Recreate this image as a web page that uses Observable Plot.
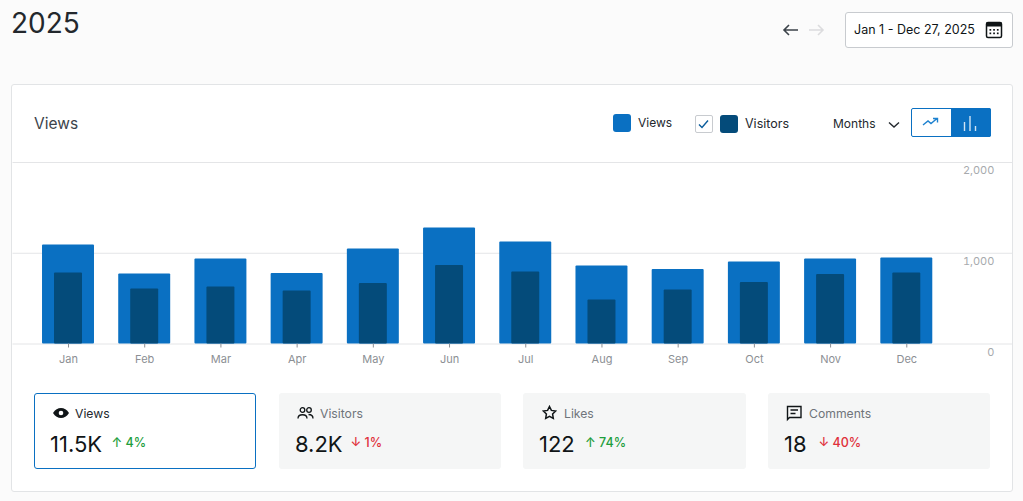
<!DOCTYPE html>
<html><head><meta charset="utf-8">
<script src="https://cdn.jsdelivr.net/npm/d3@7"></script>
<script src="https://cdn.jsdelivr.net/npm/@observablehq/plot@0.6"></script>
<style>
html,body{margin:0;padding:0;width:1023px;height:501px;overflow:hidden;background:#fbfbfb;font-family:Inter,"Noto Sans",sans-serif;color:#101517}
.a{position:absolute;white-space:nowrap;line-height:1}
#card{position:absolute;left:11px;top:84px;width:1000px;height:406px;background:#fff;border:1px solid #e2e4e6;border-radius:3px;box-sizing:content-box}
#plot{position:absolute;left:12px;top:155px}
#plot svg{display:block;overflow:visible}
.stat{position:absolute;top:393px;height:76px;width:222.5px;background:#f5f6f6;border-radius:3px;box-sizing:border-box}
.stat.on{background:#fff;border:1.5px solid #0a70c2;left:33.5px;top:392.5px;height:76.5px}
.sw{position:absolute;width:18px;height:18px;border-radius:3px}
</style></head><body>
<div class="a" style="left:11px;top:9px;font-size:28px;color:#23282d">2025</div>
<svg class="a" style="left:782px;top:23px" width="44" height="14" fill="none" stroke-width="1.6"><path d="M16 7H2M7 2L2 7l5 5" stroke="#3c434a"/><path d="M27 7h14M36 2l5 5-5 5" stroke="#dcdcde"/></svg>
<div class="a" style="left:845px;top:12px;width:168px;height:36px;box-sizing:border-box;background:#fff;border:1px solid #c8cbcf;border-radius:3px"></div>
<div class="a" style="left:854px;top:24px;font-size:12.5px">Jan 1 - Dec 27, 2025</div>
<svg class="a" style="left:985px;top:21px" width="18" height="18"><rect x="1.5" y="1.5" width="15" height="15" rx="1.5" fill="#fff" stroke="#101517" stroke-width="1.5"/><rect x="1.5" y="1.5" width="15" height="4" fill="#101517"/><g fill="#101517"><rect x="4.500" y="8" width="1.700" height="1.700"/><rect x="8.200" y="8" width="1.700" height="1.700"/><rect x="11.900" y="8" width="1.700" height="1.700"/><rect x="4.500" y="11.500" width="1.700" height="1.700"/><rect x="8.200" y="11.500" width="1.700" height="1.700"/><rect x="11.900" y="11.500" width="1.700" height="1.700"/></g></svg>
<div id="card"></div>
<div class="a" style="left:34px;top:116px;font-size:15.5px;color:#3c434a">Views</div>
<div class="sw" style="left:612.5px;top:114px;background:#0a70c2"></div>
<div class="a" style="left:638px;top:116.500px;font-size:12px;color:#23282d">Views</div>
<div class="a" style="left:694.5px;top:115px;width:18px;height:18px;box-sizing:border-box;border:1px solid #c8cbcf;border-radius:2px;background:#fff"></div>
<svg class="a" style="left:697px;top:118px" width="13" height="12" fill="none"><path d="M2 6.5l3 3L11 2.5" stroke="#0a5c9c" stroke-width="1.4"/></svg>
<div class="sw" style="left:719.5px;top:115px;background:#044b7a"></div>
<div class="a" style="left:745px;top:117.500px;font-size:12.5px;color:#23282d">Visitors</div>
<div class="a" style="left:833px;top:118px;font-size:12px;color:#23282d">Months</div>
<svg class="a" style="left:887px;top:120px" width="14" height="10" fill="none"><path d="M2 2.5l5 4.5 5-4.5" stroke="#23282d" stroke-width="1.4"/></svg>
<div class="a" style="left:911px;top:108px;width:80px;height:29px;box-sizing:border-box;border:1px solid #0a70c2;border-radius:2px;background:#fff"></div>
<div class="a" style="left:950.5px;top:108px;width:40.5px;height:29px;background:#0a70c2;border-radius:0 2px 2px 0"></div>
<svg class="a" style="left:922px;top:116px" width="18" height="12" fill="none"><path d="M1 9l5-4 3 2.5 6-5M11 2.5h4.500v4" stroke="#1e82d0" stroke-width="1.4"/></svg>
<svg class="a" style="left:962px;top:115px" width="16" height="17" fill="none" stroke="#cfe3f4" stroke-width="1.4"><path d="M2.500 16V7M8 16V1M13.500 16v-5"/></svg>

<div id="plot"></div>

<div class="stat on"></div>
<div class="stat" style="left:278.5px"></div>
<div class="stat" style="left:523px"></div>
<div class="stat" style="left:767.5px"></div>
<div id="stats"></div>
<svg class="a" style="left:52px;top:406px" width="18" height="14"><path d="M1 7c2-3.500 5-5 8-5s6 1.500 8 5c-2 3.500-5 5-8 5S3 10.500 1 7z" fill="#101517"/><circle cx="9" cy="7" r="2.300" fill="#fff"/></svg>
<svg class="a" style="left:297px;top:406px" width="17" height="14" fill="none" stroke="#101517" stroke-width="1.300"><circle cx="5.500" cy="4" r="2.300"/><circle cx="12" cy="4" r="2.300"/><path d="M1 12.500c0-5 9-5 9 0M11.500 8.500c3 0 4.500 1.500 4.500 4"/></svg>
<svg class="a" style="left:542px;top:405px" width="15" height="15" fill="none" stroke="#101517" stroke-width="1.500"><path d="M7.500 1.500l1.900 3.900 4.300.6-3.100 3 .7 4.300-3.800-2-3.800 2 .7-4.300-3.100-3 4.300-.6z"/></svg>
<svg class="a" style="left:786px;top:405px" width="17" height="17" fill="none" stroke="#101517" stroke-width="1.400"><path d="M1.500 14.500V1.500h13.500v11H3.500z"/><path d="M4.500 5h7.500M4.500 8.500h5"/></svg>

<script>
const months = ["Jan","Feb","Mar","Apr","May","Jun","Jul","Aug","Sep","Oct","Nov","Dec"];
const views = [1091,771,937,777,1047,1278,1124,860,821,904,937,948];
const visitors = [782,606,628,584,667,865,793,485,595,678,766,782];
const yTicks = [0,1000,2000];
const statLabels = ["Views","Visitors","Likes","Comments"];
const statValues = ["11.5K","8.2K","122","18"];
const statDeltas = ["4%","1%","74%","40%"];
const statUp = [true,false,true,false];

const viewsData = months.map((m,i)=>({month:m,value:views[i]}));
const visitorsData = months.map((m,i)=>({month:m,value:visitors[i]}));

const chart = Plot.plot({
  width:1001, height:215,
  marginLeft:17.9, marginRight:68.6, marginTop:7, marginBottom:26.5,
  style:{fontFamily:'Inter,"Noto Sans",sans-serif',background:"transparent",overflow:"visible"},
  x:{domain:months,type:"band",paddingInner:0.318,paddingOuter:0.159,round:false,label:null},
  y:{domain:[0,2000],range:[188.5,7],label:null},
  marks:[
    Plot.ruleY(yTicks,{stroke:"#e4e5e7",strokeWidth:1,insetLeft:-17.4,insetRight:-68,strokeOpacity:1}),
    Plot.barY(viewsData,{x:"month",y:"value",fill:"#0a70c2",rx:1}),
    Plot.barY(visitorsData,{x:"month",y:"value",fill:"#044b7a",insetLeft:12,insetRight:12,rx:1}),
    Plot.axisX({tickSize:4,tickPadding:7,fontSize:11,color:"#8c8f94",stroke:"#8c8f94",strokeOpacity:1,label:null}),
    Plot.axisY(yTicks,{anchor:"right",tickSize:0,tickPadding:49.5,textAnchor:"end",dy:8,fontSize:11,color:"#a7aaad",label:null,tickFormat:d3.format(",")})
  ]
});
document.getElementById("plot").appendChild(chart);

const host=document.getElementById("stats");
statLabels.forEach((lab,i)=>{
  const c=statUp[i]?"#1e9e3c":"#e0303a";
  const labelX=[75,320,564,809][i];
  const valX=[50,295,539,784][i];
  const deltaX=[111.5,350.5,585,818.5][i];
  const add=(txt,x,y,fs,col,w)=>{const d=document.createElement("div");d.className="a";d.textContent=txt;
    d.style.cssText=`left:${x}px;top:${y}px;font-size:${fs}px;color:${col};font-weight:${w||400}`;host.appendChild(d)};
  add(lab,labelX,407.500,12.200,i==0?"#23282d":"#6f747a");
  add(statValues[i],valX,433,22,"#101517");
  add((statUp[i]?"↑":"↓")+" "+statDeltas[i],deltaX,436.500,12.500,c,500);
});
</script>
</body></html>
